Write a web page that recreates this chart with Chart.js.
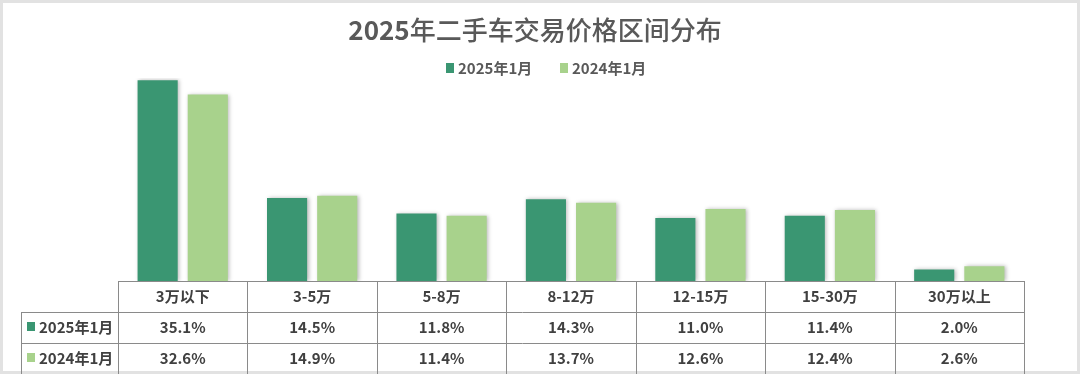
<!DOCTYPE html>
<html>
<head>
<meta charset="utf-8">
<script src="https://cdn.jsdelivr.net/npm/chart.js@4"></script>
<style>
  html, body { margin: 0; padding: 0; background: #ffffff; }
  #wrap { width: 1080px; height: 374px; position: relative; }
</style>
</head>
<body>
<div id="wrap"><canvas id="chart" width="1080" height="374"></canvas></div>
<script>
// 数据
const titleYear = '2025';
const titleRest = '年二手车交易价格区间分布';
const categories = ['3万以下', '3-5万', '5-8万', '8-12万', '12-15万', '15-30万', '30万以上'];
const seriesNames = ['2025年1月', '2024年1月'];
const values2025 = [35.1, 14.5, 11.8, 14.3, 11.0, 11.4, 2.0];
const values2024 = [32.6, 14.9, 11.4, 13.7, 12.6, 12.4, 2.6];
const seriesColors = ['#3a9672', '#a8d28c'];

const FONT = '"Noto Sans CJK SC", "Noto Sans", sans-serif';
const TEXT_COLOR = '#404040';
const LINE_COLOR = '#8a8a8a';

// 柱子阴影
const shadowPlugin = {
  id: 'barShadow',
  beforeDatasetDraw(chart) {
    const ctx = chart.ctx;
    ctx.save();
    ctx.shadowColor = 'rgba(0,0,0,0.28)';
    ctx.shadowBlur = 4;
    ctx.shadowOffsetX = 1.5;
    ctx.shadowOffsetY = 0;
  },
  afterDatasetDraw(chart) {
    chart.ctx.restore();
  }
};

// 标题、图例、数据表
const decorPlugin = {
  id: 'decor',
  afterDraw(chart) {
    const ctx = chart.ctx;
    const area = chart.chartArea;
    const xScale = chart.scales.x;
    const colW = area.width / categories.length;

    ctx.save();
    // 外框
    ctx.strokeStyle = '#e2e2e2';
    ctx.lineWidth = 3;
    ctx.strokeRect(1.5, 1.5, chart.width - 3, chart.height - 3);

    // 标题 (数字粗体, 汉字常规)
    ctx.fillStyle = '#595959';
    ctx.textBaseline = 'middle';
    ctx.textAlign = 'left';
    const fYear = 'bold 26px ' + FONT;
    const fRest = '500 26px ' + FONT;
    ctx.font = fYear;
    const wYear = ctx.measureText(titleYear).width;
    ctx.font = fRest;
    const wRest = ctx.measureText(titleRest).width;
    const tx = 535 - (wYear + wRest) / 2;
    ctx.font = fYear;
    ctx.fillText(titleYear, tx, 30);
    ctx.font = fRest;
    ctx.fillText(titleRest, tx + wYear, 30);

    // 图例
    ctx.font = 'bold 15px ' + FONT;
    const legendX = [446, 560];
    seriesNames.forEach((name, i) => {
      ctx.fillStyle = seriesColors[i];
      ctx.fillRect(legendX[i], 63, 8, 10);
      ctx.fillStyle = '#595959';
      ctx.fillText(name, legendX[i] + 12, 68);
    });

    // 表格
    const top = area.bottom;
    const rowH = [31, 31, 31];
    const y1 = top + rowH[0];
    const y2 = y1 + rowH[1];
    const y3 = y2 + rowH[2];
    const labelLeft = 21;

    ctx.strokeStyle = LINE_COLOR;
    ctx.lineWidth = 1;
    ctx.beginPath();
    // 横线
    ctx.moveTo(area.left, top + 0.5); ctx.lineTo(area.right, top + 0.5);
    ctx.moveTo(labelLeft, y1 + 0.5); ctx.lineTo(area.right, y1 + 0.5);
    ctx.moveTo(labelLeft, y2 + 0.5); ctx.lineTo(area.right, y2 + 0.5);
    // 竖线
    ctx.moveTo(labelLeft + 0.5, y1); ctx.lineTo(labelLeft + 0.5, y3);
    for (let i = 0; i <= categories.length; i++) {
      const x = Math.round(area.left + i * colW) + 0.5;
      ctx.moveTo(x, top); ctx.lineTo(x, y3);
    }
    ctx.stroke();

    ctx.font = 'bold 15px ' + FONT;
    ctx.fillStyle = TEXT_COLOR;
    ctx.textAlign = 'center';
    categories.forEach((c, i) => {
      const cx = xScale.getPixelForValue(i);
      ctx.fillText(c, cx, top + rowH[0] / 2);
      ctx.fillText(values2025[i].toFixed(1) + '%', cx, y1 + rowH[1] / 2);
      ctx.fillText(values2024[i].toFixed(1) + '%', cx, y2 + rowH[2] / 2);
    });

    // 行标题
    ctx.textAlign = 'left';
    [y1, y2].forEach((y, i) => {
      ctx.fillStyle = seriesColors[i];
      ctx.fillRect(27, y + 10, 8, 9);
      ctx.fillStyle = TEXT_COLOR;
      ctx.fillText(seriesNames[i], 39, y + 15.5);
    });
    ctx.restore();
  }
};

const ctx = document.getElementById('chart').getContext('2d');
new Chart(ctx, {
  type: 'bar',
  data: {
    labels: categories,
    datasets: [
      { label: seriesNames[0], data: values2025, backgroundColor: seriesColors[0] },
      { label: seriesNames[1], data: values2024, backgroundColor: seriesColors[1] }
    ]
  },
  options: {
    responsive: false,
    animation: false,
    layout: { padding: { left: 118, right: 56, top: 78, bottom: 93 } },
    datasets: {
      bar: { categoryPercentage: 0.775, barPercentage: 0.8 }
    },
    scales: {
      x: { display: false, offset: true },
      y: { display: false, min: 0, max: 35.5 }
    },
    plugins: {
      legend: { display: false },
      title: { display: false },
      tooltip: { enabled: false }
    }
  },
  plugins: [shadowPlugin, decorPlugin]
});
</script>
</body>
</html>
